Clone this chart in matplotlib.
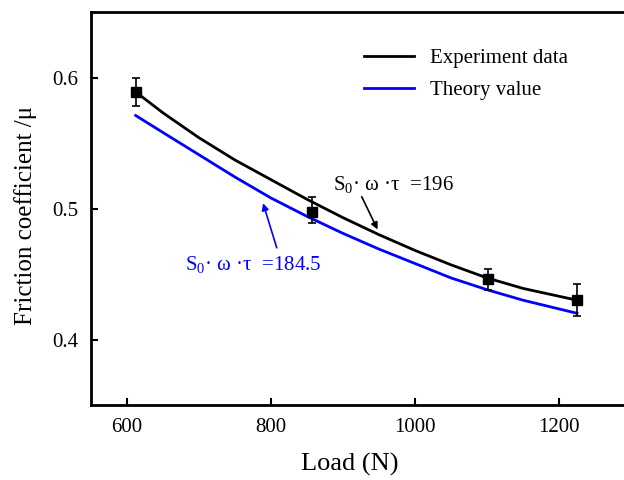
import matplotlib
matplotlib.use("Agg")
import matplotlib.pyplot as plt

plt.rcParams['font.family'] = ['Liberation Serif', 'DejaVu Serif']
plt.rcParams['mathtext.fontset'] = 'custom'
plt.rcParams['mathtext.rm'] = 'Liberation Serif'
plt.rcParams['mathtext.it'] = 'Liberation Serif:italic'

# Experimental points
load_exp = [612, 857, 1102, 1225]
mu_exp = [0.589, 0.497, 0.446, 0.430]
err_lo = [0.011, 0.008, 0.008, 0.012]
err_hi = [0.011, 0.012, 0.008, 0.012]

# Curves
load_curve = [612, 650, 700, 750, 800, 850, 900, 950, 1000, 1050, 1100, 1150, 1225]
mu_fit = [0.589, 0.573, 0.554, 0.537, 0.522, 0.507, 0.493, 0.480, 0.468, 0.457, 0.447, 0.439, 0.430]
mu_theory = [0.571, 0.558, 0.541, 0.524, 0.508, 0.494, 0.481, 0.469, 0.458, 0.447, 0.438, 0.430, 0.420]

fig = plt.figure(figsize=(6.24, 4.8), dpi=100)
ax = fig.add_axes([91/624, 1-405/480, (631-91)/624, (405-12)/480])

ax.plot(load_curve, mu_fit, color='black', lw=2.0, label='Experiment data')
ax.plot(load_curve, mu_theory, color='#0000ff', lw=2.0, label='Theory value')
ax.errorbar(load_exp, mu_exp, yerr=[err_lo, err_hi], fmt='s', color='black',
            ms=7, capsize=3, elinewidth=1.2, capthick=1.2)

ax.set_xlim(550, 1300)
ax.set_ylim(0.35, 0.65)
ax.set_xticks([600, 800, 1000, 1200])
ax.set_yticks([0.4, 0.5, 0.6])
ax.set_yticklabels(['0.4', '0.5', '0.6'])
ax.tick_params(direction='in', length=5, width=1.5, labelsize=15, pad=9)
for s in ax.spines.values():
    s.set_linewidth(2)

ax.set_xlabel('Load (N)', fontsize=19)
ax.set_ylabel('Friction coefficient /μ', fontsize=18)
ax.xaxis.set_label_coords((350 - 91) / 540, -(453 - 405) / 393)
ax.yaxis.set_label_coords(-(91 - 37) / 540, (405 - 215) / 393)

ax.text(886, 0.514, r'S$_\mathrm{0}$· ω ·τ  =196', fontsize=15, color='black',
        ha='left', va='baseline')
ax.annotate('', xy=(948, 0.484), xytext=(926, 0.509),
            arrowprops=dict(arrowstyle='-|>', color='black', lw=1.2, mutation_scale=10,
                            shrinkA=0, shrinkB=0))
ax.text(680, 0.4532, r'S$_\mathrm{0}$· ω ·τ  =184.5', fontsize=15, color='#0000ff',
        ha='left', va='baseline')
ax.annotate('', xy=(789, 0.504), xytext=(808, 0.470),
            arrowprops=dict(arrowstyle='-|>', color='#0000ff', lw=1.2, mutation_scale=10,
                            shrinkA=0, shrinkB=0))

leg = ax.legend(loc='upper left', bbox_to_anchor=(0.47, 0.955), frameon=False,
                fontsize=15, handlelength=2.4, handletextpad=0.8, labelspacing=0.6)

fig.savefig('out.png', dpi=100)
